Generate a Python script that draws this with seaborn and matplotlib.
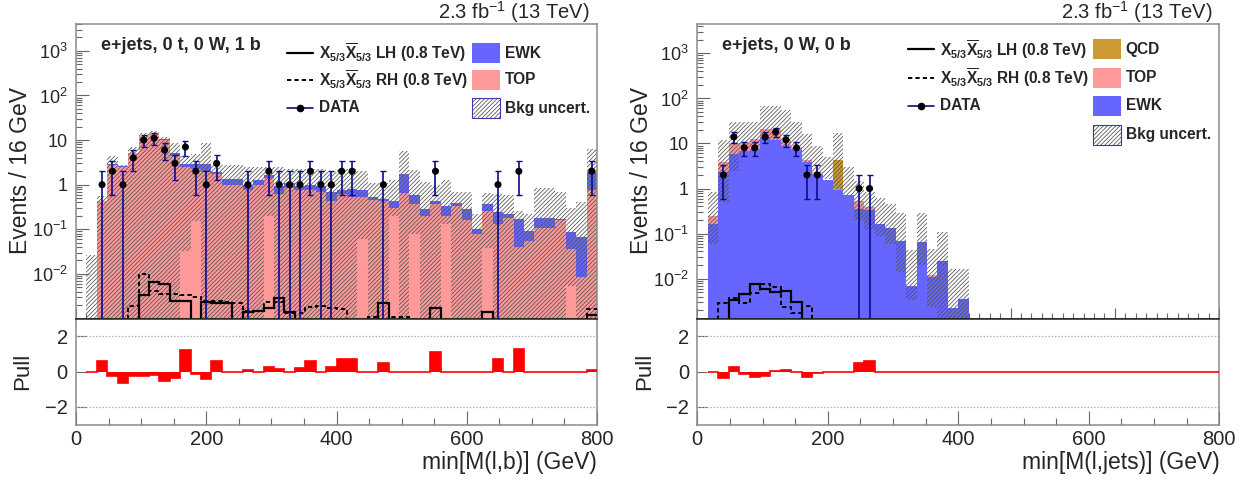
import numpy as np
import matplotlib
matplotlib.use("Agg")
import matplotlib.pyplot as plt
import seaborn as sns
from matplotlib.patches import Rectangle
from matplotlib.lines import Line2D

# ---------------------------------------------------------------- data
BIN_GEV = 16
X_MAX = 800

# e+jets, 0 t, 0 W, 1 b  --  min[M(l,b)]
lb_top = [0, 0, 0.42, 2.7, 2.5, 5.15, 12.4, 13.5, 10.2, 4.5,
          2.5, 2.29, 1.9, 1.77, 1.0, 1.0, 0.76, 1.0, 1.38, 0.62,
          0.83, 0.76, 0.76, 0.70, 0.42, 0.61, 0.54, 0.54, 0.46, 0.42,
          0.30, 0.64, 0.36, 0.20, 0.36, 0.20, 0.33, 0.16, 0.078, 0.26,
          0.134, 0.175, 0.04, 0.055, 0.105, 0.105, 0.16, 0.036, 0.0087, 0.76]
lb_ewk = [0, 0, 0.02, 0.25, 0.1, 0.05, 0.2, 0.5, 0.6, 0.65,
          0.45, 0.66, 1.0, 0.13, 0.34, 0.34, 0.22, 0.27, 0.31, 0.30,
          0.24, 0.19, 0.24, 0.25, 0.25, 0.15, 0.26, 0.22, 0.06, 0.06,
          0.12, 1.08, 0.23, 0.08, 0.08, 0.13, 0.06, 0.12, 0.026, 0.115,
          0.116, 0.045, 0.127, 0.037, 0.075, 0.075, 0.01, 0.049, 0.057, 1.17]
lb_unc_hi = [0, 0.027, 0.55, 4.3, 2.8, 7.1, 14.7, 16.0, 11.5, 8.5,
             4.5, 4.9, 8.5, 2.7, 2.7, 2.7, 2.5, 2.5, 2.5, 2.5,
             2.3, 2.3, 2.3, 2.3, 1.9, 2.2, 2.2, 2.0, 1.07, 1.1,
             1.3, 5.8, 2.1, 1.17, 1.0, 1.3, 0.7, 0.7, 0.22, 0.66,
             0.62, 0.6, 0.26, 0.22, 0.86, 0.86, 0.7, 0.3, 0.4, 6.3]
lb_unc_lo = [0, 0, 0, 0, 0, 0, 0, 0, 0, 0,
             0.033, 0.15, 0, 0, 0, 0, 0, 0, 0.197, 0,
             0, 0, 0, 0, 0, 0, 0, 0.06, 0, 0,
             0.2, 0, 0.08, 0, 0, 0.13, 0, 0, 0, 0.038,
             0, 0, 0, 0, 0, 0, 0, 0.0054, 0, 0]
lb_data = [0, 0, 1, 2, 1, 4, 10, 11, 6, 3,
           7, 2, 1, 3, 0, 0, 1, 0, 2, 1,
           1, 1, 2, 1, 1, 2, 2, 0, 0, 1,
           0, 0, 0, 0, 2, 0, 0, 0, 0, 0,
           1, 0, 2, 0, 0, 0, 0, 0, 0, 2]
lb_sig_lh = [0, 0, 0, 0, 0, 0, 0.0034, 0.0066, 0.006, 0.0025,
             0.0025, 0, 0.0024, 0.0022, 0.0022, 0, 0.0014, 0.0015, 0.0017, 0.0029,
             0.0014, 0, 0, 0, 0, 0, 0, 0, 0, 0.0022,
             0, 0, 0, 0, 0.0017, 0, 0, 0, 0, 0.0014,
             0, 0, 0, 0, 0, 0, 0, 0, 0, 0.0012]
lb_sig_rh = [0, 0, 0, 0, 0, 0.0019, 0.0099, 0.0042, 0.0036, 0.0036,
             0.0034, 0.0031, 0.0025, 0.0025, 0.0023, 0.0022, 0.0015, 0.0015, 0.0023, 0.0023,
             0.0013, 0.0013, 0.0018, 0.0019, 0.0017, 0.0016, 0, 0, 0.0011, 0,
             0.0011, 0.0011, 0, 0, 0, 0, 0, 0, 0, 0,
             0, 0, 0, 0, 0, 0, 0, 0, 0, 0.0016]
lb_pull = [0, 0, 0.6, -0.28, -0.65, -0.24, -0.28, -0.22, -0.52, -0.39,
           1.21, -0.13, -0.45, 0.6, 0, 0, 0.07, 0, 0.24, 0.15,
           -0.05, 0.19, 0.6, 0, 0.26, 0.71, 0.73, 0, 0, 0.49,
           0, 0, 0, 0, 1.1, 0, 0, 0, 0, 0,
           0.73, 0, 1.29, 0, 0, 0, 0, 0, 0, 0.09]

# e+jets, 0 W, 0 b  --  min[M(l,jets)]
lj_ewk = [0, 0.167, 2.35, 5.9, 6.8, 7.7, 14.0, 11.8, 8.8, 7.2,
          3.8, 2.15, 1.58, 0.95, 0.71, 0.36, 0.34, 0.16, 0.136, 0.068,
          0.0069, 0.065, 0.011, 0.025, 0.0022, 0.0035, 0, 0, 0, 0,
          0, 0, 0, 0, 0, 0, 0, 0, 0, 0,
          0, 0, 0, 0, 0, 0, 0, 0, 0, 0]
lj_top = [0, 0.083, 1.55, 4.5, 3.4, 5.2, 7.0, 9.2, 3.0, 1.2,
          0.45, 0.19, 0, 0, 0, 0.16, 0.04, 0, 0, 0,
          0, 0, 0.001, 0, 0, 0, 0, 0, 0, 0,
          0, 0, 0, 0, 0, 0, 0, 0, 0, 0,
          0, 0, 0, 0, 0, 0, 0, 0, 0, 0]
lj_qcd = [0] * 13 + [3.3] + [0] * 36
lj_unc_hi = [0, 0.84, 12, 30, 30, 30, 67, 67, 55, 30,
             16, 9, 5, 16.7, 3.0, 1.5, 0.85, 0.63, 0.45, 0.28,
             0.043, 0.29, 0.046, 0.11, 0.016, 0.016, 0, 0, 0, 0,
             0, 0, 0, 0, 0, 0, 0, 0, 0, 0,
             0, 0, 0, 0, 0, 0, 0, 0, 0, 0]
lj_unc_lo = [0, 0.06, 0.5, 2.5, 7.0, 8.0, 14.5, 12.0, 9.0, 7.3,
             3.9, 2.2, 1.6, 0.97, 0.72, 0.2, 0.12, 0.09, 0.06, 0.014,
             0.0033, 0.02, 0.0023, 0, 0, 0, 0, 0, 0, 0,
             0, 0, 0, 0, 0, 0, 0, 0, 0, 0,
             0, 0, 0, 0, 0, 0, 0, 0, 0, 0]
lj_data = [0, 0, 2, 14, 8, 8, 14, 18, 12, 8,
           2, 2, 0, 0, 0, 1, 1, 0, 0, 0] + [0] * 30
lj_sig_lh = [0, 0, 0, 0.0033, 0.0045, 0.0074, 0.006, 0.005, 0.0053, 0.003] + [0] * 40
lj_sig_rh = [0, 0, 0.0028, 0.0037, 0.0029, 0.0048, 0.0075, 0.0065, 0.0024, 0.0017,
             0.0025] + [0] * 39
lj_pull = [0, 0, -0.38, 0.27, -0.12, -0.3, -0.25, 0.04, 0.08, -0.04,
           -0.33, -0.06, 0, 0, 0, 0.46, 0.58, 0, 0, 0] + [0] * 30

# ---------------------------------------------------------------- style
COL_TOP = "#ff9a9a"
COL_EWK = "#6666ff"
COL_QCD = "#cc9933"
COL_DATA = "#0b0b8c"
COL_HATCH = "#505050"
COL_FRAME = "#8a8a8a"
HATCH = "////////"

sns.set_theme(style="ticks")
plt.rcParams["font.family"] = ["Liberation Sans", "DejaVu Sans"]
plt.rcParams["mathtext.fontset"] = "custom"
plt.rcParams["mathtext.rm"] = "Liberation Sans"
plt.rcParams["mathtext.bf"] = "Liberation Sans:bold"
plt.rcParams["mathtext.it"] = "Liberation Sans:italic"
plt.rcParams["mathtext.sf"] = "Liberation Sans"
plt.rcParams["hatch.linewidth"] = 0.55
plt.rcParams["axes.linewidth"] = 1.1

W, H = 1251, 482
fig = plt.figure(figsize=(W / 100, H / 100), dpi=100)

edges = np.arange(0, X_MAX + BIN_GEV, BIN_GEV)
centers = 0.5 * (edges[:-1] + edges[1:])


def rect(x0, y0, x1, y1):
    """Pixel box (top-left origin) to figure-fraction rectangle."""
    return [x0 / W, 1 - y1 / H, (x1 - x0) / W, (y1 - y0) / H]


def style_frame(ax, bottom_dark=False, top_dark=False):
    for s in ax.spines.values():
        s.set_color(COL_FRAME)
        s.set_linewidth(1.1)
    if bottom_dark:
        ax.spines["bottom"].set_color("#222222")
    if top_dark:
        ax.spines["top"].set_color("#222222")


def draw_main(ax, stack, unc_hi, unc_lo, data, sig_lh, sig_rh, ylim):
    floor = ylim[0] * 1e-3
    base = np.full(len(centers), floor)
    for vals, color in stack:  # bottom to top of the stack
        top = base + np.asarray(vals, float)
        ax.stairs(top, edges, baseline=base.copy(), fill=True,
                  color=color, linewidth=0, zorder=1)
        base = top
    ax.stairs(np.maximum(unc_hi, floor), edges,
              baseline=np.maximum(unc_lo, floor), fill=True,
              facecolor="none", edgecolor=COL_HATCH, hatch=HATCH,
              linewidth=0, zorder=2)
    ax.stairs(np.maximum(sig_lh, floor), edges, baseline=None,
              color="black", linewidth=1.6, zorder=3)
    ax.stairs(np.maximum(sig_rh, floor), edges, baseline=None,
              color="black", linewidth=1.4, linestyle=(0, (2.2, 1.6)), zorder=3)

    d = np.asarray(data, float)
    m = d > 0
    err = np.sqrt(d[m])
    lo = np.minimum(err, d[m] - floor)
    ax.errorbar(centers[m], d[m], yerr=[lo, err], fmt="none",
                ecolor=COL_DATA, elinewidth=1.2, capsize=2.2,
                capthick=1.0, zorder=4)
    sns.scatterplot(x=centers[m], y=d[m], ax=ax, color="black", s=26,
                    edgecolor="none", zorder=5, legend=False)

    ax.set_yscale("log")
    ax.set_xlim(0, X_MAX)
    ax.set_ylim(*ylim)
    ax.set_yticks([1e-2, 1e-1, 1, 10, 1e2, 1e3])
    ax.set_yticklabels([r"$10^{-2}$", r"$10^{-1}$", "1", "10",
                        r"$10^{2}$", r"$10^{3}$"])
    ax.yaxis.set_minor_locator(matplotlib.ticker.LogLocator(
        base=10, subs=np.arange(2, 10), numticks=20))
    ax.yaxis.set_minor_formatter(matplotlib.ticker.NullFormatter())
    ax.set_xticks(np.arange(0, X_MAX + 1, 160))
    ax.set_xticks(edges, minor=True)
    ax.tick_params(axis="x", which="both", labelbottom=False,
                   direction="in", color="#666666", top=False)
    ax.tick_params(axis="x", which="major", length=8, width=0.8)
    ax.tick_params(axis="x", which="minor", length=4, width=0.8)
    ax.tick_params(axis="y", which="both", direction="in",
                   color="#666666", right=False, labelsize=13, pad=6)
    ax.tick_params(axis="y", which="major", length=9, width=0.8)
    ax.tick_params(axis="y", which="minor", length=4.5, width=0.8)
    ax.set_xlabel("")
    ax.set_ylabel("")
    style_frame(ax, bottom_dark=True)


def draw_pull(ax, pull, unc_hi):
    pull = np.asarray(pull, float)
    first = int(np.argmax(np.asarray(unc_hi) > 0))
    e = edges[first:]
    ax.stairs(pull[first:], e, baseline=0, fill=True, color="#ff0000",
              linewidth=0, zorder=2)
    ax.stairs(pull[first:], e, baseline=0, fill=False, color="#ff0000",
              linewidth=1.2, zorder=3)
    for level in (-2, 2):
        ax.axhline(level, color="#b0b0b0", linewidth=0.9,
                   linestyle=(0, (1.2, 1.4)), zorder=1)
    ax.set_xlim(0, X_MAX)
    ax.set_ylim(-3, 3)
    ax.set_yticks([-2, 0, 2])
    ax.set_xticks(np.arange(0, X_MAX + 1, 200))
    ax.set_xticks(np.arange(0, X_MAX + 1, 50), minor=True)
    ax.tick_params(axis="both", which="both", direction="in",
                   color="#666666", top=False, right=False)
    ax.tick_params(axis="x", which="major", length=10, width=0.8,
                   labelsize=14.5, pad=4)
    ax.tick_params(axis="x", which="minor", length=5, width=0.8)
    ax.tick_params(axis="y", which="major", length=7, width=0.8,
                   labelsize=14.5, pad=6)
    ax.set_xlabel("")
    ax.set_ylabel("")
    style_frame(ax, top_dark=True)


# ---------------------------------------------------------------- panels
panels = [
    dict(x0=76, x1=597, ylim=(1.0e-3, 4.0e3),
         stack=[(lb_top, COL_TOP), (lb_ewk, COL_EWK)],
         hi=lb_unc_hi, lo=lb_unc_lo, data=lb_data,
         lh=lb_sig_lh, rh=lb_sig_rh, pull=lb_pull,
         xlabel="min[M(l,b)] (GeV)", tag="e+jets, 0 t, 0 W, 1 b"),
    dict(x0=697.3, x1=1219.3, ylim=(1.3e-3, 4.5e3),
         stack=[(lj_ewk, COL_EWK), (lj_top, COL_TOP), (lj_qcd, COL_QCD)],
         hi=lj_unc_hi, lo=lj_unc_lo, data=lj_data,
         lh=lj_sig_lh, rh=lj_sig_rh, pull=lj_pull,
         xlabel="min[M(l,jets)] (GeV)", tag="e+jets, 0 W, 0 b"),
]

for p in panels:
    ax = fig.add_axes(rect(p["x0"], 24, p["x1"], 318.5))
    draw_main(ax, p["stack"], p["hi"], p["lo"], p["data"],
              p["lh"], p["rh"], p["ylim"])
    axp = fig.add_axes(rect(p["x0"], 318.5, p["x1"], 424.5))
    draw_pull(axp, p["pull"], p["hi"])

# ---------------------------------------------------------------- overlay text & legends
ov = fig.add_axes([0, 0, 1, 1])
ov.set_xlim(0, W)
ov.set_ylim(H, 0)
ov.axis("off")
ov.patch.set_alpha(0)

SIG = r"$\mathbf{X}_{\mathbf{5/3}}\mathbf{\overline{X}}_{\mathbf{5/3}}$"
LEG_FS = 11.2


def leg_line(x, y, label, style):
    x0, x1 = x, x + 26
    if style == "solid":
        ov.add_line(Line2D([x0, x1], [y, y], color="black", lw=1.6))
    elif style == "dashed":
        ov.add_line(Line2D([x0, x1], [y, y], color="black", lw=1.4,
                           linestyle=(0, (2.2, 1.6))))
    else:
        ov.add_line(Line2D([x0, x1], [y, y], color=COL_DATA, lw=1.2))
        ov.plot([0.5 * (x0 + x1)], [y], "o", color="black", ms=4.5)
    ov.text(x1 + 6, y, label, fontsize=LEG_FS, fontweight="bold",
            va="center", ha="left")


def leg_box(x, y, label, color=None, hatched=False):
    if hatched:
        ov.add_patch(Rectangle((x, y - 10), 28, 20, facecolor="none",
                               edgecolor=COL_HATCH, hatch=HATCH, lw=0))
        ov.add_patch(Rectangle((x, y - 10), 28, 20, facecolor="none",
                               edgecolor="#3a3aa8", lw=0.8))
    else:
        ov.add_patch(Rectangle((x, y - 10), 28, 20, facecolor=color,
                               edgecolor="none"))
    ov.text(x + 33, y, label, fontsize=LEG_FS, fontweight="bold",
            va="center", ha="left")


for p, dx in zip(panels, (0.0, 621.3)):
    ov.text(20.5 + dx, 171, "Events / 16 GeV", rotation=90, fontsize=16.5,
            ha="center", va="center")
    ov.text(23 + dx, 371, "Pull", rotation=90, fontsize=16,
            ha="center", va="center")
    ov.text(p["x1"], 463, p["xlabel"], fontsize=16.5, ha="right",
            va="center")
    ov.text(p["x1"] - 7, 18.5, r"2.3 fb$^{-1}$ (13 TeV)", fontsize=14.5,
            ha="right", va="baseline")
    ov.text(p["x0"] + 25, 45, p["tag"], fontsize=13, fontweight="bold",
            ha="left", va="center")

# left panel legend
leg_line(287, 53, SIG + " LH (0.8 TeV)", "solid")
leg_line(287, 80, SIG + " RH (0.8 TeV)", "dashed")
leg_line(287, 108, "DATA", "data")
leg_box(471.7, 53, "EWK", COL_EWK)
leg_box(471.7, 80, "TOP", COL_TOP)
leg_box(471.7, 108, "Bkg uncert.", hatched=True)

# right panel legend
leg_line(908, 49.3, SIG + " LH (0.8 TeV)", "solid")
leg_line(908, 77.7, SIG + " RH (0.8 TeV)", "dashed")
leg_line(908, 106, "DATA", "data")
leg_box(1092.7, 49.3, "QCD", COL_QCD)
leg_box(1092.7, 77.7, "TOP", COL_TOP)
leg_box(1092.7, 106, "EWK", COL_EWK)
leg_box(1092.7, 135, "Bkg uncert.", hatched=True)

fig.savefig("out.png", dpi=100, facecolor="white")
